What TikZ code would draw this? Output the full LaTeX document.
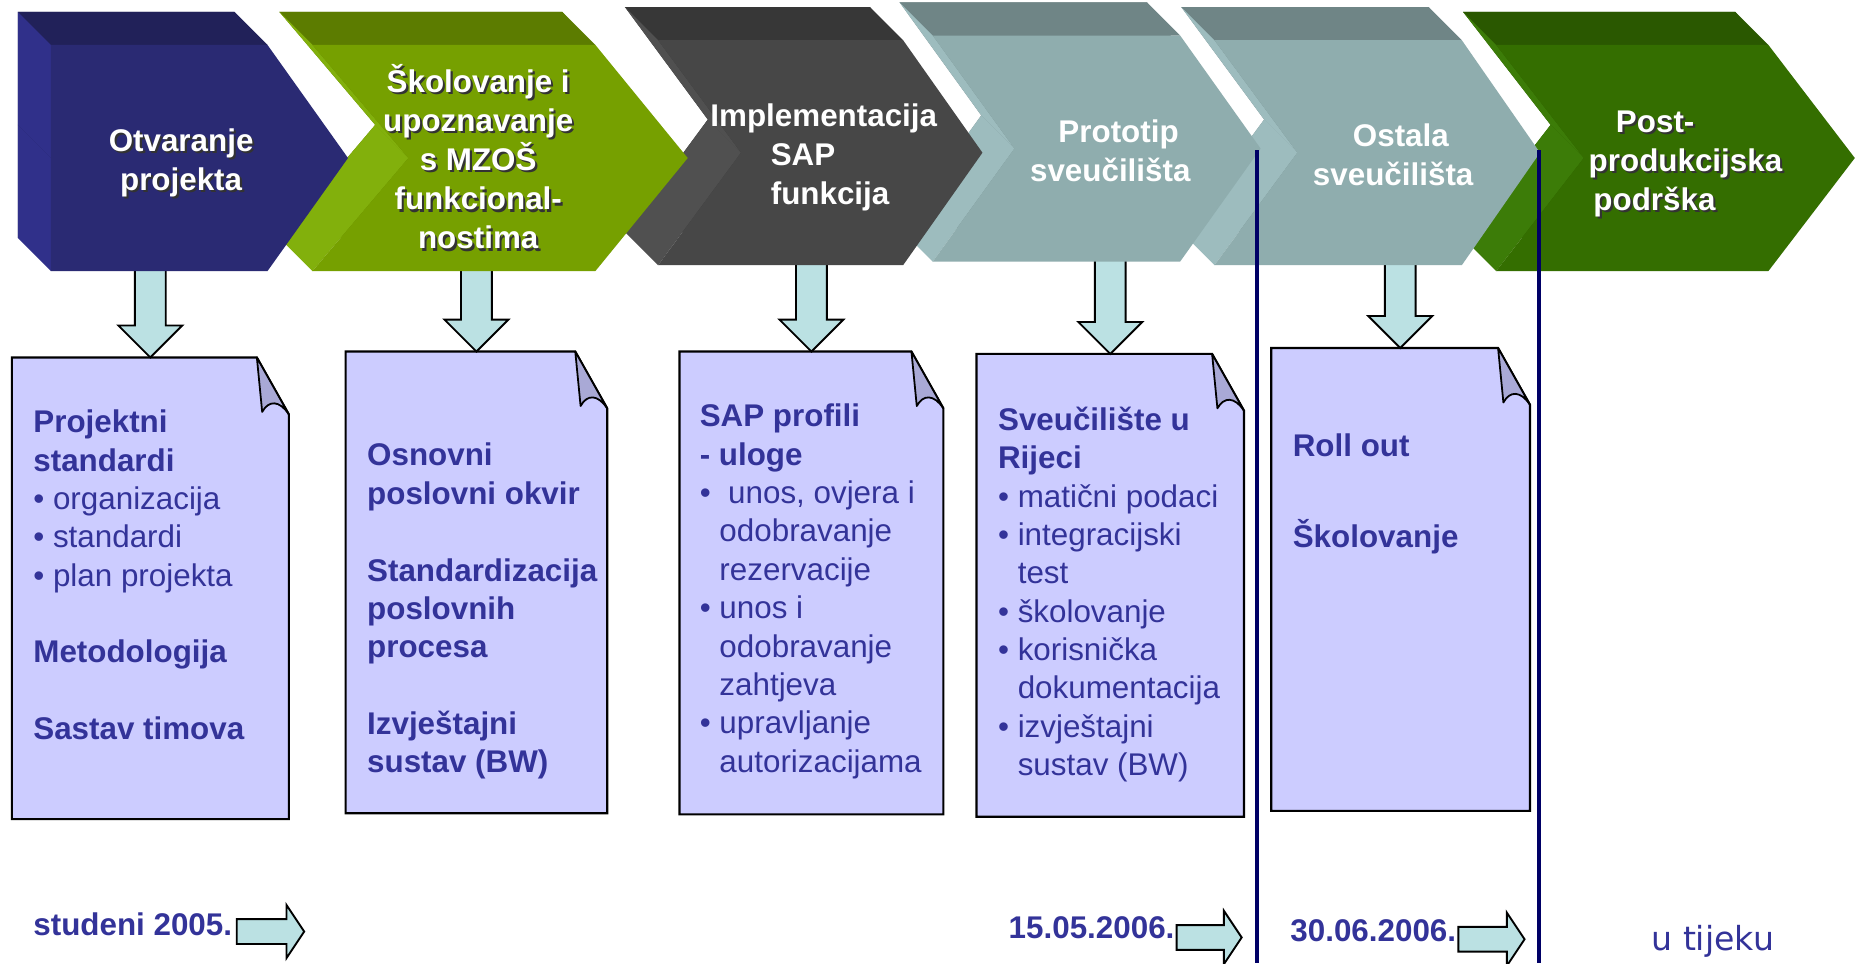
\documentclass[tikz,border=0pt]{standalone}
\usepackage{fontspec}
\setmainfont{Liberation Sans}
\newfontfamily\utfont{DejaVu Sans}
\definecolor{docblue}{HTML}{333399}
\definecolor{docfill}{HTML}{CCCCFF}
\definecolor{foldfill}{HTML}{A9A9D6}
\definecolor{arrowfill}{HTML}{BBE1E3}
\definecolor{linenavy}{HTML}{000066}
\definecolor{navyF}{HTML}{2A2A73}\definecolor{navyT}{HTML}{212159}\definecolor{navyL}{HTML}{30308A}
\definecolor{limeF}{HTML}{76A000}\definecolor{limeT}{HTML}{5C7C00}\definecolor{limeL}{HTML}{82B00C}
\definecolor{dgrayF}{HTML}{474747}\definecolor{dgrayT}{HTML}{373737}\definecolor{dgrayL}{HTML}{505050}
\definecolor{tealF}{HTML}{8FADAE}\definecolor{tealT}{HTML}{6F8586}\definecolor{tealL}{HTML}{9DBCBE}
\definecolor{dgreenF}{HTML}{346E00}\definecolor{dgreenT}{HTML}{2A5800}\definecolor{dgreenL}{HTML}{3C7C08}
% chevron: x0, shoulder, tip, notch, top, bottom, front, top colour, left colour
\newcommand\mychev[9]{%
  \fill[#8] ({#1-28},{#5-28}) -- ({#2-28},{#5-28}) -- ({#3-28},{(#5+#6)/2-28}) -- ({#2-28},{#6-28}) -- ({#1-28},{#6-28}) -- ({#4-28},{(#5+#6)/2-28}) -- cycle;
  \fill[#8] ({#1-28},{#5-28}) -- ({#2-28},{#5-28}) -- (#2,#5) -- (#1,#5) -- cycle;
  \fill[#9] ({#1-28},{#5-28}) -- ({#4-28},{(#5+#6)/2-28}) -- (#4,{(#5+#6)/2}) -- (#1,#5) -- cycle;
  \fill[#9] ({#4-28},{(#5+#6)/2-28}) -- ({#1-28},{#6-28}) -- (#1,#6) -- (#4,{(#5+#6)/2}) -- cycle;
  \fill[#7] (#1,#5) -- (#2,#5) -- (#3,{(#5+#6)/2}) -- (#2,#6) -- (#1,#6) -- (#4,{(#5+#6)/2}) -- cycle;
}
% document: x0, y0, x1, y1
\newcommand\mydoc[4]{%
  \draw[docshape] (#1,#2) -- ({#3-27},#2) -- (#3,{#2+48}) -- (#3,#4) -- (#1,#4) -- cycle;
  \draw[foldshape] ({#3-27},#2) -- ({#3-22.5},{#2+46}) .. controls ({#3-17},{#2+36}) and ({#3-8},{#2+36}) .. (#3,{#2+48}) -- cycle;
}
% down block arrow: cx, ytop, ytip
\newcommand\varrow[3]{%
  \draw[blockarrow] ({#1-13},#2) -- ({#1-13},{#3-27}) -- ({#1-27},{#3-27}) -- (#1,#3) -- ({#1+27},{#3-27}) -- ({#1+13},{#3-27}) -- ({#1+13},#2);
}
% right block arrow: left x, tip x, centre y
\newcommand\harrow[3]{%
  \draw[blockarrow] (#1,{#3-10.5}) -- ({#2-15},{#3-10.5}) -- ({#2-15},{#3-22.5}) -- (#2,#3) -- ({#2-15},{#3+22.5}) -- ({#2-15},{#3+10.5}) -- (#1,{#3+10.5}) -- cycle;
}
% shadowed chevron title: name, x, y(north), options, text
\newcommand\shtext[5]{%
  \node[chevtext,#4,text=black!80] (#1s) at ({#2+1.8},{#3+1.8}) {\strut #5};
  \node[chevtext,#4] (#1) at (#2,#3) {\strut #5};
}
\newcommand\ind{\hphantom{•}\ }
\begin{document}
\begin{tikzpicture}[x=1pt,y=-1pt,
  doctext/.style={anchor=north west, inner sep=0pt, align=left, text=docblue, font=\fontsize{26.5}{32.4}\selectfont},
  chevtext/.style={anchor=north, inner sep=0pt, align=center, text=white, font=\fontsize{26.5}{33}\selectfont\bfseries},
  blockarrow/.style={fill=arrowfill, draw=black, line width=1.6pt, line join=miter},
  docshape/.style={fill=docfill, draw=black, line width=1.8pt},
  foldshape/.style={fill=foldfill, draw=black, line width=1.5pt, line join=round},
  datetext/.style={anchor=base west, inner sep=0pt, text=docblue, font=\fontsize{26.5}{32.4}\selectfont\bfseries},
  milestone/.style={draw=linenavy, line width=3pt}]
\path[use as bounding box, fill=white] (0,0) rectangle (1568,813.6);

% documents
\mydoc{10}{302}{244}{692}
\mydoc{292}{297}{513}{687}
\mydoc{574}{297}{797}{688}
\mydoc{825}{299}{1051}{690}
\mydoc{1074}{294}{1292.6}{685}

% down arrows
\varrow{127}{215}{302}
\varrow{402.5}{215}{297}
\varrow{685.5}{215}{297}
\varrow{938}{215}{299}
\varrow{1183}{215}{294}

% chevrons
\mychev{1264}{1494}{1567}{1338}{38}{229}{dgreenF}{dgreenT}{dgreenL}
\mychev{1026}{1235}{1301}{1096}{34}{224}{tealF}{tealT}{tealL}
\mychev{788}{997}{1065}{857}{30}{221}{tealF}{tealT}{tealL}
\mychev{556}{763}{830}{626}{34}{224}{dgrayF}{dgrayT}{dgrayL}
\mychev{264}{503}{581}{345}{38}{229}{limeF}{limeT}{limeL}
\mychev{43}{226}{294}{43}{38}{229}{navyF}{navyT}{navyL}

% chevron titles
\shtext{c1}{153}{104.4}{}{Otvaranje\\projekta}
\shtext{c2}{404}{54.4}{}{Školovanje i\\upoznavanje\\s MZOŠ\\funkcional-\\nostima}
\node[chevtext, anchor=north west, align=left] (c3) at (600,83.4) {\strut Implementacija\\\hspace*{51pt}SAP\\\hspace*{51pt}funkcija};
\node[chevtext] (c4) at (938,97.4) {\strut\hspace*{14pt}Prototip\\sveučilišta};
\node[chevtext] (c5) at (1177,100.4) {\strut\hspace*{13pt}Ostala\\sveučilišta};
\shtext{c6}{1342}{88.4}{anchor=north west, align=left}{\hspace*{23pt}Post-\\produkcijska\\\hspace*{4pt}podrška}

% document texts
\node[doctext] (d1) at (28,342.8) {\strut\textbf{Projektni}\\\textbf{standardi}\\• organizacija\\• standardi\\• plan projekta\\[32.4pt]\textbf{Metodologija}\\[32.4pt]\textbf{Sastav timova}};
\node[doctext] (d2) at (310,370.8) {\strut\textbf{Osnovni}\\\textbf{poslovni okvir}\\[32.4pt]\textbf{Standardizacija}\\\textbf{poslovnih}\\\textbf{procesa}\\[32.4pt]\textbf{Izvještajni}\\\textbf{sustav (BW)}};
\node[doctext] (d3) at (591,337.8) {\strut\textbf{SAP profili}\\\textbf{- uloge}\\•~ unos, ovjera i\\\ind odobravanje\\\ind rezervacije\\• unos i\\\ind odobravanje\\\ind zahtjeva\\• upravljanje\\\ind autorizacijama};
\node[doctext] (d4) at (843,340.8) {\strut\textbf{Sveučilište u}\\\textbf{Rijeci}\\• matični podaci\\• integracijski\\\ind test\\• školovanje\\• korisnička\\\ind dokumentacija\\• izvještajni\\\ind sustav (BW)};
\node[doctext] (d5) at (1092,362.8) {\strut\textbf{Roll out}\\[42.6pt]\textbf{Školovanje}};

% milestone lines
\coordinate (m1a) at (1062,127); \coordinate (m1b) at (1062,813.6);
\coordinate (m2a) at (1300,127); \coordinate (m2b) at (1300,813.6);
\draw[milestone] (m1a) -- (m1b);
\draw[milestone] (m2a) -- (m2b);

% dates
\node[datetext] (t1) at (28,790) {studeni 2005.};
\harrow{200}{257}{787}
\node[datetext] (t2) at (852,792.5) {15.05.2006.};
\harrow{994}{1049}{792}
\node[datetext] (t3) at (1090,795) {30.06.2006.};
\harrow{1232}{1288}{793.5}
\node[anchor=base west, inner sep=0pt, text=docblue, font=\utfont\fontsize{28}{32}\selectfont] (t4) at (1395,802.6) {u tijeku};
\end{tikzpicture}
\end{document}
